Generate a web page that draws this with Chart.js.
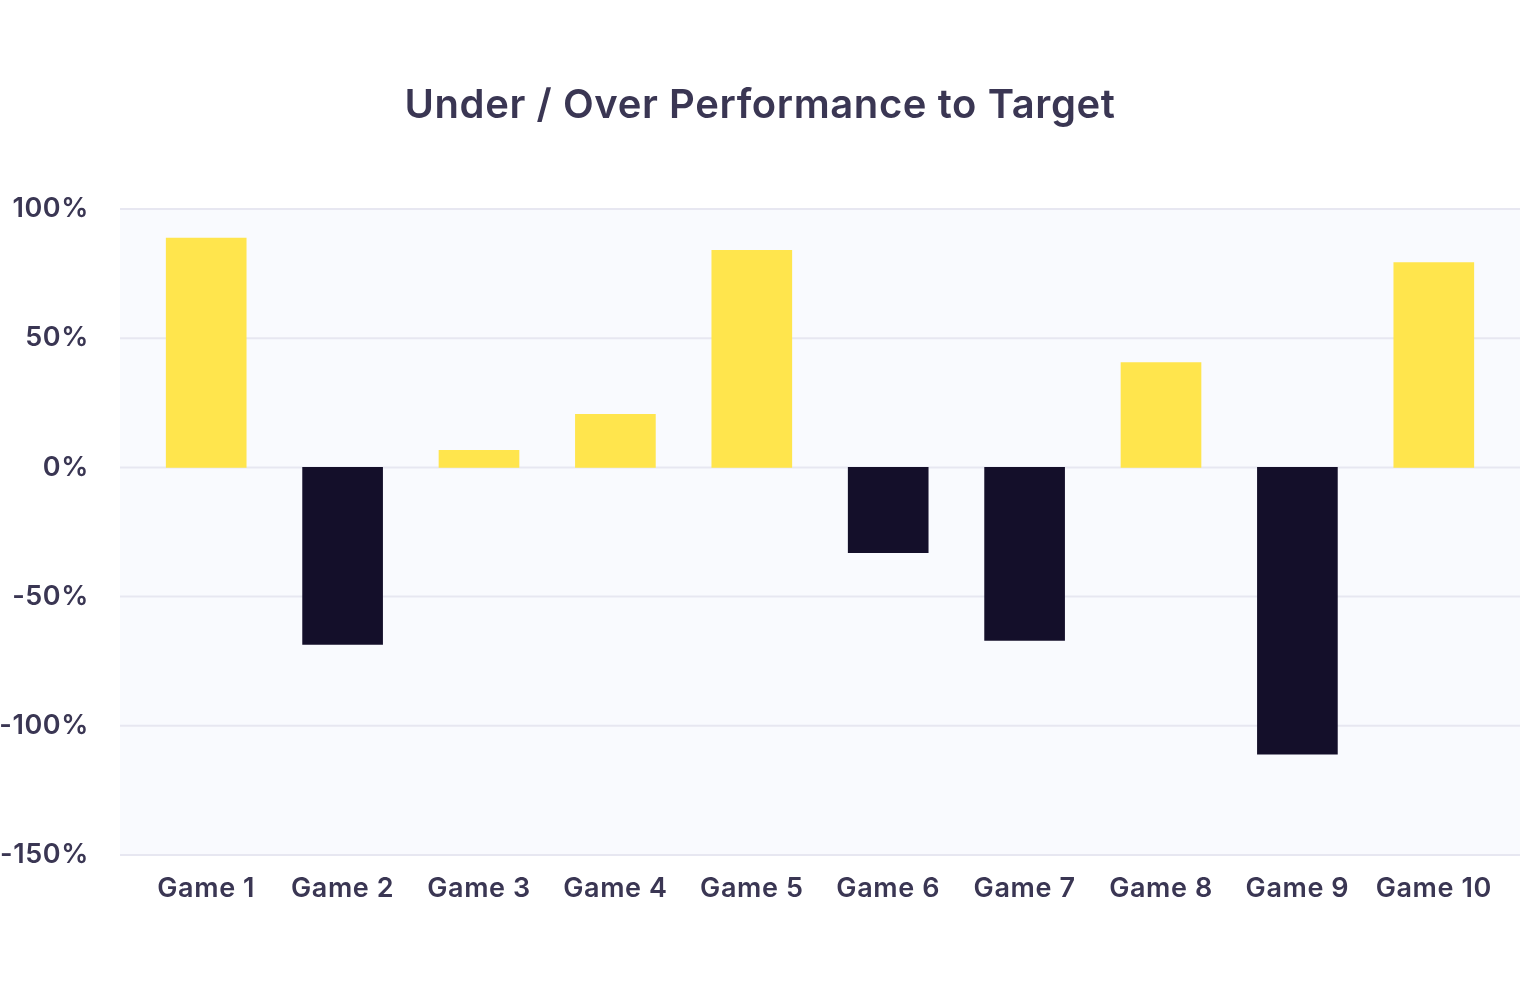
<!DOCTYPE html>
<html>
<head>
<meta charset="utf-8">
<script src="https://cdn.jsdelivr.net/npm/chart.js@4"></script>
<style>
  html, body { margin: 0; padding: 0; background: #ffffff; }
  #wrap { width: 1520px; height: 984px; position: relative; }
</style>
</head>
<body>
<div id="wrap"><canvas id="c"></canvas></div>
<script>
const categories = ['Game 1', 'Game 2', 'Game 3', 'Game 4', 'Game 5', 'Game 6', 'Game 7', 'Game 8', 'Game 9', 'Game 10'];
const performance = [88.7, -68.5, 6.6, 20.5, 84, -33, -67, 40.6, -111, 79.3];
const yMin = -150;
const yMax = 100;
const yStep = 50;
const titleText = 'Under / Over Performance to Target';

const POS = '#ffe54d';
const NEG = '#140f2a';
const TEXT = '#3a3653';
const GRID = '#e7e7f1';
const PLOTBG = '#f9fafe';
const FONT = 'Inter, "Open Sans", sans-serif';
const EXT = 18;

const plotDecor = {
  id: 'plotDecor',
  afterLayout(chart) {
    const t = chart.titleBlock;
    if (t) { t.left = 0; t.right = chart.width; t.width = chart.width; }
  },
  beforeDraw(chart) {
    chart.ctx.letterSpacing = '0.6px';
  },
  beforeDatasetsDraw(chart) {
    const { ctx, chartArea } = chart;
    const y = chart.scales.y;
    const left = chartArea.left - EXT;
    const right = chartArea.right + EXT;
    ctx.save();
    ctx.fillStyle = PLOTBG;
    ctx.fillRect(left, chartArea.top, right - left, chartArea.bottom - chartArea.top);
    ctx.strokeStyle = GRID;
    ctx.lineWidth = 2;
    y.ticks.forEach(t => {
      const py = y.getPixelForValue(t.value);
      ctx.beginPath();
      ctx.moveTo(left, py);
      ctx.lineTo(right, py);
      ctx.stroke();
    });
    ctx.restore();
  }
};

new Chart(document.getElementById('c'), {
  type: 'bar',
  data: {
    labels: categories,
    datasets: [{
      data: performance,
      backgroundColor: performance.map(v => v >= 0 ? POS : NEG),
      borderWidth: 0,
      barThickness: 80
    }]
  },
  options: {
    responsive: true,
    maintainAspectRatio: false,
    animation: false,
    devicePixelRatio: 1,
    layout: { padding: { left: 0, right: EXT, top: 0, bottom: 0 } },
    plugins: {
      legend: { display: false },
      tooltip: { enabled: false },
      title: {
        display: true,
        text: titleText,
        color: TEXT,
        font: { family: FONT, size: 40, weight: '600', lineHeight: 1.2 },
        padding: { top: 82, bottom: 79 }
      }
    },
    scales: {
      x: {
        grid: { display: false },
        border: { display: false },
        ticks: {
          color: TEXT,
          padding: 10,
          maxRotation: 0,
          autoSkip: false,
          font: { family: FONT, size: 27, weight: '600', lineHeight: 1.2 }
        },
        afterFit(scale) { scale.height = 129; }
      },
      y: {
        min: yMin,
        max: yMax,
        grid: { display: false },
        border: { display: false },
        ticks: {
          stepSize: yStep,
          color: TEXT,
          padding: 41,
          font: { family: FONT, size: 27, weight: '600', lineHeight: 1.2 },
          callback: v => v + '%'
        },
        afterFit(scale) { scale.width = 138; }
      }
    }
  },
  plugins: [plotDecor]
});
</script>
</body>
</html>
